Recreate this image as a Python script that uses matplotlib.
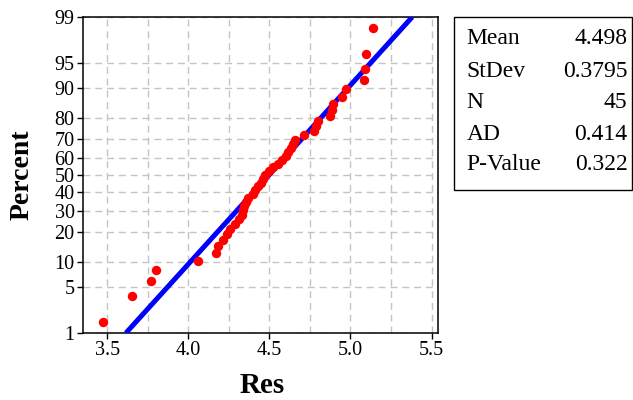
import matplotlib
matplotlib.use("Agg")
import matplotlib.pyplot as plt
import numpy as np
from matplotlib.patches import Rectangle
from statistics import NormalDist

# residual values, sorted
res = [3.474, 3.652, 3.768, 3.800, 4.057, 4.172, 4.185, 4.211, 4.236, 4.260,
       4.285, 4.313, 4.331, 4.337, 4.343, 4.356, 4.371, 4.396, 4.414, 4.432,
       4.448, 4.463, 4.475, 4.500, 4.525, 4.555, 4.580, 4.600, 4.617, 4.632,
       4.645, 4.660, 4.715, 4.777, 4.787, 4.798, 4.875, 4.889, 4.893, 4.949,
       4.970, 5.084, 5.090, 5.096, 5.139]

stat_names = ["Mean", "StDev", "N", "AD", "P-Value"]
stat_values = ["4.498", "0.3795", "45", "0.414", "0.322"]
mean, stdev = 4.498, 0.3795

y_ticks = [1, 5, 10, 20, 30, 40, 50, 60, 70, 80, 90, 95, 99]
x_ticks = [3.5, 4.0, 4.5, 5.0, 5.5]
x_minor = [3.75, 4.25, 4.75, 5.25]

plt.rcParams["font.family"] = ["Liberation Serif", "DejaVu Serif"]

nd = NormalDist()


def fwd(p):
    p = np.clip(np.asarray(p, dtype=float), 1e-4, 100 - 1e-4)
    return np.vectorize(lambda v: nd.inv_cdf(v / 100.0), otypes=[float])(p)


def inv(z):
    z = np.asarray(z, dtype=float)
    return np.vectorize(lambda v: nd.cdf(v) * 100.0, otypes=[float])(z)


n = len(res)
# median rank plotting positions
pct = [(i + 1 - 0.3) / (n + 0.4) * 100 for i in range(n)]

fit = NormalDist(mean, stdev)
line_pct = [1, 99]
line_x = [fit.inv_cdf(p / 100.0) for p in line_pct]

fig = plt.figure(figsize=(6.33, 4.0), dpi=100)
ax = fig.add_axes([0.131, 0.1675, 0.561, 0.79])
ax.set_yscale("function", functions=(fwd, inv))

ax.plot(line_x, line_pct, color="#0000ff", lw=3.6, zorder=3, solid_capstyle="butt")
ax.scatter(res, pct, s=46, color="#ff0000", zorder=4, linewidths=0)

ax.set_xlim(3.35, 5.54)
ax.set_ylim(1, 99)
ax.set_yticks(y_ticks)
ax.set_yticklabels([str(t) for t in y_ticks])
ax.yaxis.set_minor_locator(matplotlib.ticker.NullLocator())
ax.set_xticks(x_ticks)
ax.set_xticklabels(["%.1f" % t for t in x_ticks])
ax.set_xticks(x_minor, minor=True)

ax.grid(True, which="both", color="#c4c4c4", linestyle=(0, (5, 3.5)), lw=1.0, zorder=0)
ax.set_axisbelow(True)
ax.tick_params(axis="both", which="major", direction="out", length=4, width=1,
               labelsize=14.5, pad=2, colors="black")
ax.tick_params(axis="x", which="minor", length=0)
for sp in ax.spines.values():
    sp.set_linewidth(1.1)
    sp.set_color("black")

ax.set_xlabel("Res", fontsize=21, fontweight="bold", va="center")
ax.xaxis.set_label_coords(0.504, -0.165)
ax.set_ylabel("Percent", fontsize=20, fontweight="bold", va="center")
ax.yaxis.set_label_coords(-0.17, 0.5)

# statistics box
W, H = 633.0, 400.0
fig.patches.append(Rectangle((453.5 / W, 1 - 189.5 / H), (631.5 - 453.5) / W, (189.5 - 17.5) / H,
                             transform=fig.transFigure, fill=False, edgecolor="black", lw=1.0))
row_y = [39, 71.5, 103, 134, 164.5]
for name, val, yy in zip(stat_names, stat_values, row_y):
    fig.text(466.5 / W, 1 - yy / H, name, fontsize=17, ha="left", va="center")
    fig.text(627.5 / W, 1 - yy / H, val, fontsize=17, ha="right", va="center")

fig.savefig("out.png", dpi=100)
